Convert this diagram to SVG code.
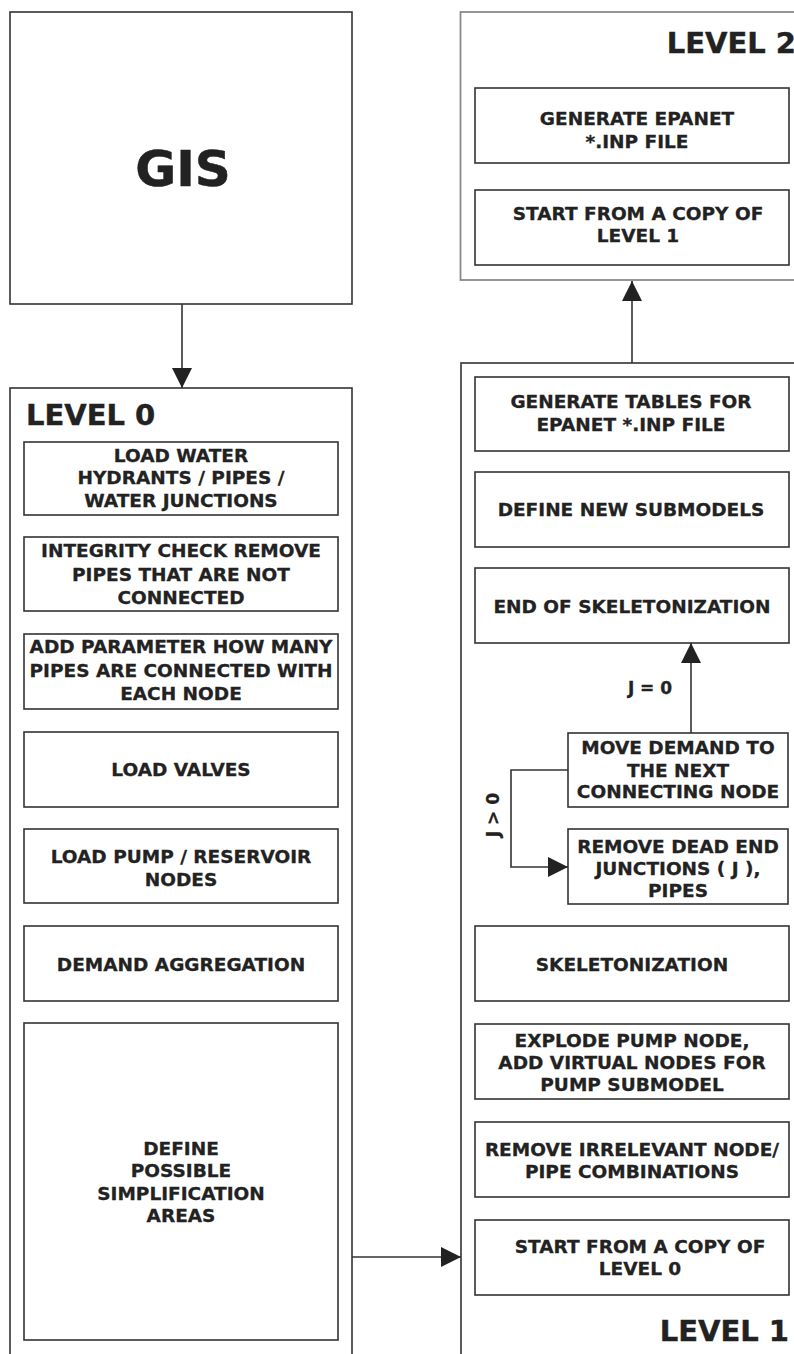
<svg xmlns="http://www.w3.org/2000/svg" width="794" height="1354" viewBox="0 0 794 1354">
<defs>
<style>
.bg{fill:#fff}
.box{fill:#fff;stroke:#333;stroke-width:1.6}
.outer{fill:#fff;stroke:#333;stroke-width:1.6}
.outer2{fill:#fff;stroke:#8a8a8a;stroke-width:1.8}
.t{font-family:"DejaVu Sans","Verdana",sans-serif;font-weight:bold;font-size:18.5px;fill:#222;stroke:#222;stroke-width:0.3;text-anchor:middle}
.big{font-family:"DejaVu Sans","Verdana",sans-serif;font-weight:bold;font-size:29px;fill:#222;stroke:#222;stroke-width:0.4}
.gis{font-family:"DejaVu Sans","Verdana",sans-serif;font-weight:bold;font-size:50px;fill:#222;stroke:#222;stroke-width:0.5;text-anchor:middle}
.lbl{font-family:"DejaVu Sans","Verdana",sans-serif;font-weight:bold;font-size:17px;fill:#222;stroke:#222;stroke-width:0.3;text-anchor:middle}
.con{fill:none;stroke:#333;stroke-width:1.6}
</style>
<marker id="ah" markerUnits="userSpaceOnUse" markerWidth="20" markerHeight="20" refX="20" refY="10" orient="auto" viewBox="0 0 20 20">
<path d="M0,0 L20,10 L0,20 z" fill="#222"/>
</marker>
</defs>
<rect class="bg" x="0" y="0" width="794" height="1354"/>

<g id="gis">
<rect class="box" x="10" y="12" width="342" height="292"/>
<text class="gis" x="183" y="186">GIS</text>
</g>

<g id="level0">
<rect class="outer" x="10" y="388" width="342" height="1000"/>
<text class="big" x="26" y="425">LEVEL 0</text>
</g>

<g id="l0-load-water">
<rect class="box" x="24" y="442" width="314" height="73"/>
<text class="t" x="181" y="462">LOAD WATER</text>
<text class="t" x="181" y="484">HYDRANTS / PIPES /</text>
<text class="t" x="181" y="507">WATER JUNCTIONS</text>
</g>
<g id="l0-integrity">
<rect class="box" x="24" y="537" width="314" height="74"/>
<text class="t" x="181" y="557">INTEGRITY CHECK REMOVE</text>
<text class="t" x="181" y="581">PIPES THAT ARE NOT</text>
<text class="t" x="181" y="604">CONNECTED</text>
</g>
<g id="l0-parameter">
<rect class="box" x="24" y="634" width="314" height="75"/>
<text class="t" x="181" y="653">ADD PARAMETER HOW MANY</text>
<text class="t" x="181" y="677">PIPES ARE CONNECTED WITH</text>
<text class="t" x="181" y="700">EACH NODE</text>
</g>
<g id="l0-valves">
<rect class="box" x="24" y="732" width="314" height="75"/>
<text class="t" x="181" y="776">LOAD VALVES</text>
</g>
<g id="l0-pump">
<rect class="box" x="24" y="829" width="314" height="74"/>
<text class="t" x="181" y="863">LOAD PUMP / RESERVOIR</text>
<text class="t" x="181" y="886">NODES</text>
</g>
<g id="l0-demand">
<rect class="box" x="24" y="926" width="314" height="75"/>
<text class="t" x="181" y="971">DEMAND AGGREGATION</text>
</g>
<g id="l0-define">
<rect class="box" x="24" y="1023" width="314" height="317"/>
<text class="t" x="181" y="1155">DEFINE</text>
<text class="t" x="181" y="1177">POSSIBLE</text>
<text class="t" x="181" y="1200">SIMPLIFICATION</text>
<text class="t" x="181" y="1222">AREAS</text>
</g>

<g id="level1">
<rect class="outer" x="461" y="363" width="400" height="1100"/>
<text class="big" x="789" y="1341" text-anchor="end">LEVEL 1</text>
</g>
<g id="l1-tables">
<rect class="box" x="475" y="377" width="314" height="74"/>
<text class="t" x="631" y="408">GENERATE TABLES FOR</text>
<text class="t" x="631" y="431">EPANET *.INP FILE</text>
</g>
<g id="l1-submodels">
<rect class="box" x="475" y="472" width="314" height="75"/>
<text class="t" x="631" y="516">DEFINE NEW SUBMODELS</text>
</g>
<g id="l1-end">
<rect class="box" x="475" y="568" width="314" height="75"/>
<text class="t" x="632" y="613">END OF SKELETONIZATION</text>
</g>
<g id="l1-move">
<rect class="box" x="568" y="733" width="220" height="74"/>
<text class="t" x="678" y="754">MOVE DEMAND TO</text>
<text class="t" x="678" y="777">THE NEXT</text>
<text class="t" x="678" y="798">CONNECTING NODE</text>
</g>
<g id="l1-remove-dead">
<rect class="box" x="568" y="829" width="220" height="75"/>
<text class="t" x="678" y="853">REMOVE DEAD END</text>
<text class="t" x="678" y="875">JUNCTIONS ( J ),</text>
<text class="t" x="678" y="897">PIPES</text>
</g>
<g id="l1-skeleton">
<rect class="box" x="475" y="926" width="314" height="75"/>
<text class="t" x="632" y="971">SKELETONIZATION</text>
</g>
<g id="l1-explode">
<rect class="box" x="475" y="1024" width="314" height="75"/>
<text class="t" x="632" y="1047">EXPLODE PUMP NODE,</text>
<text class="t" x="632" y="1069">ADD VIRTUAL NODES FOR</text>
<text class="t" x="632" y="1091">PUMP SUBMODEL</text>
</g>
<g id="l1-irrelevant">
<rect class="box" x="475" y="1122" width="314" height="75"/>
<text class="t" x="632" y="1156">REMOVE IRRELEVANT NODE/</text>
<text class="t" x="632" y="1178">PIPE COMBINATIONS</text>
</g>
<g id="l1-copy">
<rect class="box" x="475" y="1220" width="314" height="75"/>
<text class="t" x="640" y="1253">START FROM A COPY OF</text>
<text class="t" x="640" y="1275">LEVEL 0</text>
</g>

<g id="level2">
<rect class="outer2" x="460.5" y="12" width="400" height="268"/>
<text class="big" x="796" y="53" text-anchor="end">LEVEL 2</text>
</g>
<g id="l2-generate">
<rect class="box" x="475" y="88" width="314" height="75"/>
<text class="t" x="637" y="125">GENERATE EPANET</text>
<text class="t" x="637" y="148">*.INP FILE</text>
</g>
<g id="l2-copy">
<rect class="box" x="475" y="190" width="314" height="75"/>
<text class="t" x="638" y="220">START FROM A COPY OF</text>
<text class="t" x="638" y="242">LEVEL 1</text>
</g>

<g id="connectors">
<path class="con" d="M182,304 V388" marker-end="url(#ah)"/>
<path class="con" d="M352,1257 H461" marker-end="url(#ah)"/>
<path class="con" d="M632,363 V281" marker-end="url(#ah)"/>
<path class="con" d="M691,733 V643" marker-end="url(#ah)"/>
<path class="con" d="M568,770 H511 V867 H568" marker-end="url(#ah)"/>
<text class="lbl" x="650" y="694">J = 0</text>
<text class="lbl" transform="translate(499,815) rotate(-90)" x="0" y="0">J &gt; 0</text>
</g>
</svg>
